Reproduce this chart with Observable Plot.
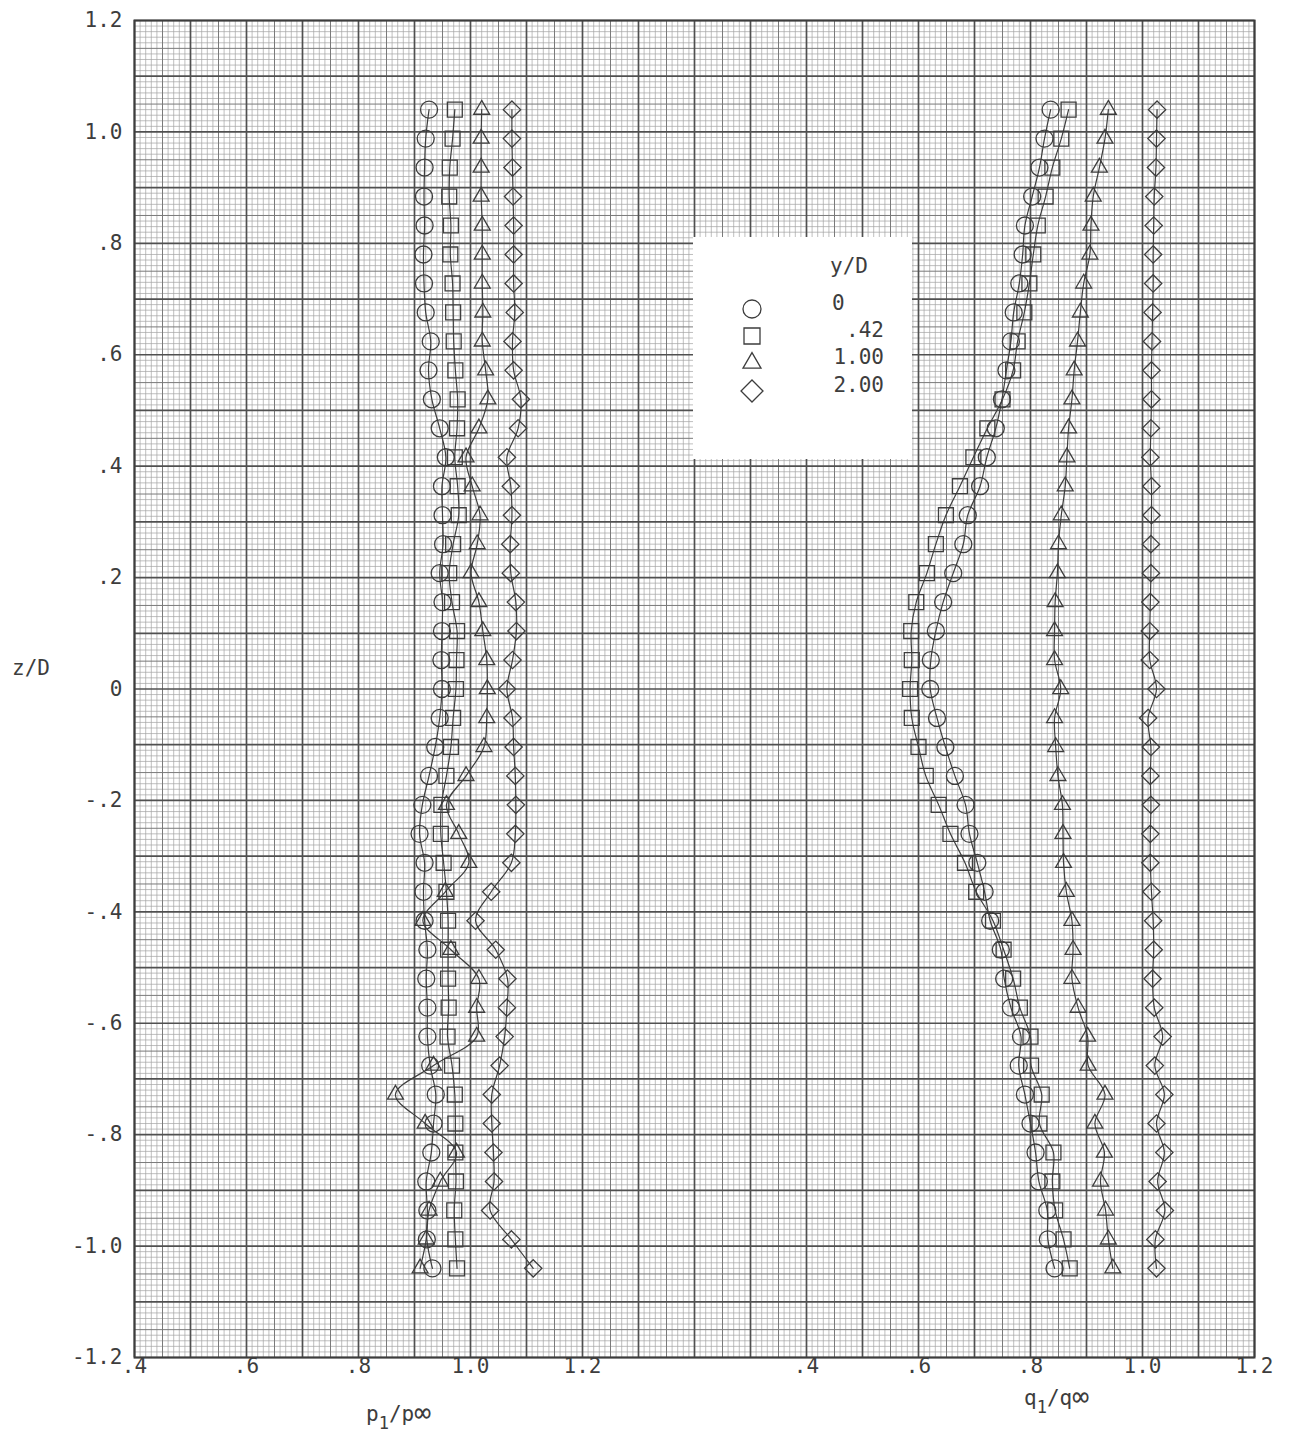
<!DOCTYPE html>
<html><head><meta charset="utf-8">
<script src="https://cdn.jsdelivr.net/npm/d3@7"></script>
<script src="https://cdn.jsdelivr.net/npm/@observablehq/plot@0.6"></script>
<style>
body{margin:0;background:#fff;}
#wrap{position:relative;width:1289px;height:1433px;overflow:hidden;}
#overlay{position:absolute;left:0;top:0;pointer-events:none;}
#legend{position:absolute;left:693px;top:237px;width:219px;height:222px;background:#fff;}
</style></head><body><div id="wrap"></div>
<script>
// z/D stations (same for every series)
const zD = [1.040,0.988,0.936,0.884,0.832,0.780,0.728,0.676,0.624,0.572,0.520,0.468,0.416,0.364,0.312,0.260,0.208,0.156,0.104,0.052,0.000,
 -0.052,-0.104,-0.156,-0.208,-0.260,-0.312,-0.364,-0.416,-0.468,-0.520,-0.572,-0.624,-0.676,-0.728,-0.780,-0.832,-0.884,-0.936,-0.988,-1.040];

// p1/p_inf  (left scale)
const pCircle   = [0.926,0.920,0.918,0.917,0.918,0.916,0.917,0.920,0.929,0.925,0.931,0.945,0.956,0.949,0.950,0.951,0.945,0.950,0.949,0.948,0.949,
 0.945,0.937,0.926,0.914,0.909,0.918,0.916,0.918,0.923,0.921,0.923,0.923,0.928,0.938,0.934,0.930,0.921,0.923,0.922,0.932];
const pSquare   = [0.972,0.968,0.963,0.962,0.965,0.964,0.968,0.969,0.970,0.973,0.977,0.976,0.972,0.977,0.979,0.969,0.962,0.967,0.976,0.975,0.974,
 0.969,0.965,0.957,0.948,0.947,0.952,0.957,0.960,0.960,0.960,0.961,0.959,0.967,0.972,0.973,0.973,0.974,0.971,0.973,0.976];
const pTriangle = [1.020,1.019,1.019,1.019,1.021,1.021,1.021,1.022,1.021,1.027,1.031,1.015,0.992,1.003,1.017,1.012,1.001,1.015,1.022,1.029,1.030,
 1.029,1.024,0.992,0.957,0.979,0.997,0.955,0.915,0.965,1.015,1.011,1.011,0.934,0.866,0.919,0.975,0.946,0.926,0.921,0.910];
const pDiamond  = [1.074,1.074,1.075,1.076,1.077,1.077,1.077,1.079,1.075,1.077,1.090,1.085,1.065,1.072,1.074,1.071,1.072,1.081,1.082,1.075,1.065,
 1.075,1.077,1.080,1.081,1.080,1.073,1.037,1.009,1.045,1.066,1.065,1.061,1.052,1.038,1.038,1.041,1.042,1.035,1.073,1.112];

// q1/q_inf  (right scale)
const qCircle   = [0.836,0.825,0.816,0.803,0.790,0.786,0.780,0.770,0.765,0.757,0.749,0.738,0.722,0.710,0.688,0.680,0.662,0.644,0.631,0.622,0.621,
 0.633,0.648,0.665,0.684,0.691,0.705,0.718,0.728,0.747,0.753,0.765,0.783,0.779,0.790,0.800,0.809,0.815,0.830,0.831,0.843];
const qSquare   = [0.868,0.855,0.839,0.827,0.813,0.805,0.798,0.789,0.777,0.769,0.750,0.723,0.698,0.674,0.649,0.631,0.615,0.596,0.587,0.588,0.585,
 0.588,0.600,0.613,0.636,0.657,0.683,0.703,0.733,0.752,0.769,0.781,0.800,0.801,0.820,0.816,0.841,0.839,0.844,0.859,0.870];
const qTriangle = [0.939,0.933,0.923,0.912,0.908,0.906,0.895,0.889,0.884,0.878,0.874,0.868,0.865,0.862,0.855,0.850,0.848,0.844,0.843,0.843,0.854,
 0.843,0.845,0.849,0.857,0.858,0.859,0.864,0.874,0.876,0.874,0.885,0.902,0.903,0.933,0.915,0.932,0.925,0.934,0.939,0.947];
const qDiamond  = [1.026,1.025,1.024,1.021,1.020,1.019,1.019,1.018,1.017,1.016,1.016,1.015,1.014,1.016,1.016,1.015,1.015,1.014,1.013,1.013,1.025,
 1.010,1.015,1.014,1.015,1.014,1.014,1.016,1.019,1.020,1.018,1.021,1.036,1.022,1.039,1.025,1.039,1.027,1.040,1.023,1.025];

// axes
const xTickValues = [0.4,0.6,0.8,1.0,1.2,1.6,1.8,2.0,2.2,2.4];
const xTickLabels = [".4",".6",".8","1.0","1.2",".4",".6",".8","1.0","1.2"];
const yTickValues = [-1.2,-1.0,-0.8,-0.6,-0.4,-0.2,0,0.2,0.4,0.6,0.8,1.0,1.2];
const yTickLabels = ["-1.2","-1.0","-.8","-.6","-.4","-.2","0",".2",".4",".6",".8","1.0","1.2"];
const legendTitle = "y/D";
const legendLabels = ["0",".42","1.00","2.00"];
const Q_OFFSET = 1.2; // the q scale shares the grid: q = .4 sits where p = 1.6 would

const INK = "#3d3d3d";
const FONT = "'DejaVu Sans Mono', monospace";

const rows = arr => zD.map((z, i) => ({z, v: arr[i]})).filter(d => d.v != null);
const series = [
  {symbol: "circle",    r: 8.5,  p: pCircle,   q: qCircle},
  {symbol: "square2",   r: 9.5,  p: pSquare,   q: qSquare},
  {symbol: "triangle2", r: 7.6,  p: pTriangle, q: qTriangle},
  {symbol: "diamond2",  r: 7.8,  p: pDiamond,  q: qDiamond}
];

// graph-paper grid
const gx = d3.range(40, 241), gy = d3.range(-120, 121);
const cls = i => (i % 10 === 0 ? 2 : i % 5 === 0 ? 1 : 0);
const gridStyles = [
  {stroke: "#a3a3a3", strokeWidth: 0.7},
  {stroke: "#7a7a7a", strokeWidth: 1.0},
  {stroke: "#505050", strokeWidth: 1.7}
];
const gridMarks = [];
for (const k of [0, 1, 2]) {
  gridMarks.push(Plot.ruleX(gx.filter(i => cls(i) === k).map(i => i / 100), gridStyles[k]));
  gridMarks.push(Plot.ruleY(gy.filter(i => cls(i) === k).map(i => i / 100), gridStyles[k]));
}

const dataMarks = [];
for (const s of series) {
  const P = rows(s.p), Q = rows(s.q);
  const common = {y: "z", stroke: INK};
  dataMarks.push(Plot.line(P, {...common, x: "v", curve: "catmull-rom", strokeWidth: 1.2}));
  dataMarks.push(Plot.line(Q, {...common, x: d => d.v + Q_OFFSET, curve: "catmull-rom", strokeWidth: 1.2}));
  dataMarks.push(Plot.dot(P, {...common, x: "v", symbol: s.symbol, r: s.r, fill: "none", strokeWidth: 1.3}));
  dataMarks.push(Plot.dot(Q, {...common, x: d => d.v + Q_OFFSET, symbol: s.symbol, r: s.r, fill: "none", strokeWidth: 1.3}));
}

const chart = Plot.plot({
  width: 1289, height: 1433,
  marginLeft: 134, marginRight: 35, marginTop: 20, marginBottom: 76,
  style: {background: "white", fontFamily: FONT, fontSize: "21px", color: INK},
  x: {domain: [0.4, 2.4], ticks: xTickValues, tickFormat: d => xTickLabels[xTickValues.indexOf(d)],
      tickSize: 0, tickPadding: 1, label: null},
  y: {domain: [-1.2, 1.2], ticks: yTickValues, tickFormat: d => yTickLabels[yTickValues.indexOf(d)],
      tickSize: 0, tickPadding: 12, label: null},
  marks: [...gridMarks, ...dataMarks, Plot.frame({stroke: INK, strokeWidth: 2})]
});
const wrap = document.getElementById("wrap");
wrap.appendChild(chart);

// axis titles
const ov = d3.select(wrap).append("svg").attr("id", "overlay").attr("width", 1289).attr("height", 1433)
  .style("font-family", FONT).style("font-size", "21px").attr("fill", INK);
ov.append("text").attr("x", 12).attr("y", 675).text("z/D");
function subLabel(x, y, a, b) {
  const t = ov.append("text").attr("x", x).attr("y", y);
  t.append("tspan").text(a);
  t.append("tspan").attr("dy", 8).style("font-size", "17px").text("1");
  t.append("tspan").attr("dy", -8).text("/" + b);
  t.append("tspan").attr("dy", 1).style("font-size", "28px").text("\u221E");
}
subLabel(366, 1421, "p", "p");
subLabel(1024, 1405, "q", "q");

// legend box
const lg = d3.select(wrap).append("div").attr("id", "legend").append("svg")
  .attr("width", 219).attr("height", 222).style("font-family", FONT).style("font-size", "21px").attr("fill", INK);
lg.append("text").attr("x", 137).attr("y", 36).text(legendTitle);
const legSyms = [
  d3.symbol(d3.symbolCircle, Math.PI * 81)(),
  d3.symbol(d3.symbolSquare, 256)(),
  d3.symbol(d3.symbolTriangle2 || d3.symbolTriangle, 232)(),
  d3.symbol(d3.symbolDiamond2 || d3.symbolDiamond, 308)()
];
const legY = [72, 99, 126, 154];
legendLabels.forEach((lab, i) => {
  lg.append("path").attr("d", legSyms[i]).attr("transform", `translate(59,${legY[i]})`)
    .attr("fill", "none").attr("stroke", INK).attr("stroke-width", 1.3);
  const t = lg.append("text").attr("y", legY[i] + 1).text(lab);
  if (lab.length === 1) t.attr("x", 139); else t.attr("x", 191).attr("text-anchor", "end");
});
</script></body></html>
